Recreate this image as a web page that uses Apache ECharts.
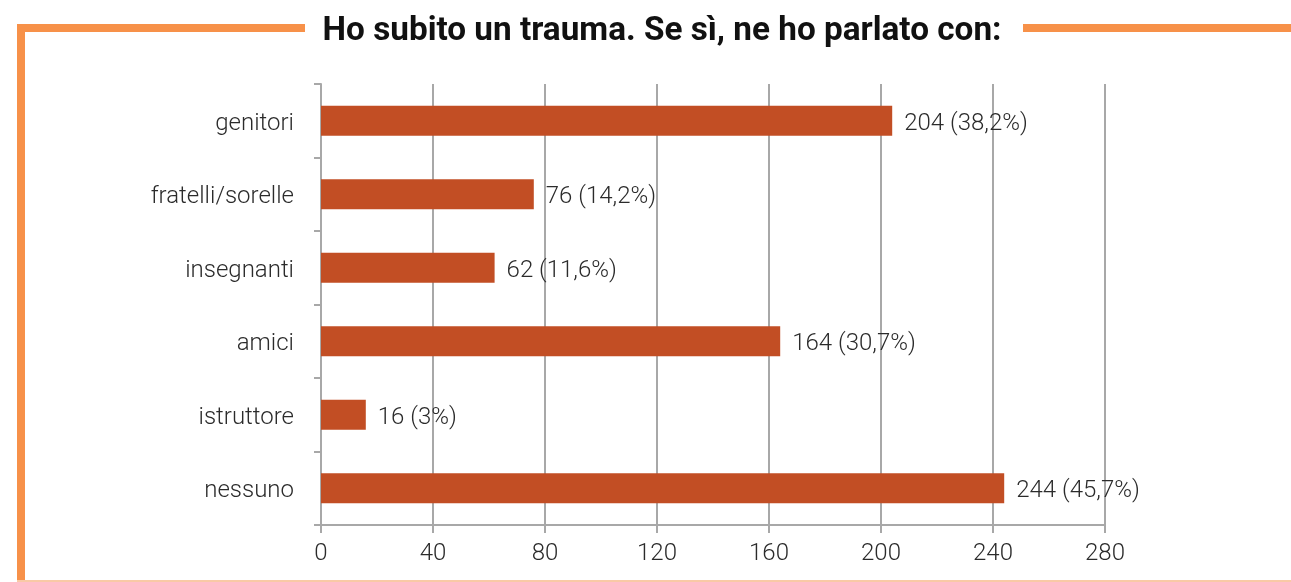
<!DOCTYPE html>
<html>
<head>
<meta charset="utf-8">
<script src="https://cdn.jsdelivr.net/npm/echarts@6/dist/echarts.min.js"></script>
<style>
  html, body { margin: 0; padding: 0; background: #fff; }
  #chart { width: 1291px; height: 582px; }
</style>
</head>
<body>
<div id="chart"></div>
<script>
// dati del grafico
var categorie = ["genitori", "fratelli/sorelle", "insegnanti", "amici", "istruttore", "nessuno"];
var valori = [204, 76, 62, 164, 16, 244];
var percentuali = ["38,2", "14,2", "11,6", "30,7", "3", "45,7"];
var titolo = "Ho subito un trauma. Se sì, ne ho parlato con:";

var arancio = "#f79149";
var grigio = "#a8a8a8";
var testo = "#2b2b2b";

var myChart = echarts.init(document.getElementById("chart"));

var option = {
    backgroundColor: "#fff",
    animation: false,
    title: {
        text: titolo,
        left: 657,
        top: 10,
        textAlign: "center",
        textStyle: {
            fontFamily: "Roboto",
            fontWeight: "bold",
            fontSize: 33.3,
            color: "#111"
        }
    },
    graphic: [
        //cornice arancione
        { type: "rect", shape: { x: 17, y: 24, width: 288, height: 8 }, style: { fill: arancio } },
        { type: "rect", shape: { x: 17, y: 24, width: 8, height: 558 }, style: { fill: arancio } },
        { type: "rect", shape: { x: 1023, y: 24, width: 268, height: 8 }, style: { fill: arancio } },
        { type: "rect", shape: { x: 17, y: 580, width: 1274, height: 2 }, style: { fill: "#f9c9a6" } }
    ],
    grid: {
        left: 321,
        right: 186,
        top: 84,
        bottom: 57,
        containLabel: false
    },
    xAxis: {
        type: "value",
        min: 0,
        max: 280,
        interval: 40,
        axisLine: { show: true, lineStyle: { color: grigio, width: 2 } },
        axisTick: { show: true, length: 8, lineStyle: { color: grigio, width: 2 } },
        splitLine: { show: true, lineStyle: { color: grigio, width: 2 } },
        axisLabel: {
            fontFamily: "Roboto",
            fontWeight: 300,
            fontSize: 24,
            color: testo,
            margin: 17
        }
    },
    yAxis: {
        type: "category",
        data: categorie,
        inverse: true,
        axisLine: { show: true, lineStyle: { color: grigio, width: 2 } },
        axisTick: { show: true, length: 7, lineStyle: { color: grigio, width: 2 } },
        axisLabel: {
            margin: 27,
            formatter: function(v) {
                return "{c|" + v + "}";
            },
            rich: {
                c: {
                    fontFamily: "Roboto",
                    fontWeight: 300,
                    fontSize: 24,
                    color: testo,
                    padding: [6, 0, 0, 0]
                }
            }
        }
    },
    series: [{
        type: "bar",
        data: valori,
        barWidth: 30,
        itemStyle: { color: "#c24e24" },
        label: {
            show: true,
            position: "right",
            distance: 12,
            offset: [0, 3],
            fontFamily: "Roboto",
            fontWeight: 300,
            fontSize: 24,
            color: testo,
            formatter: function(p) {
                return p.value + " (" + percentuali[p.dataIndex] + "%)";
            }
        }
    }]
};
myChart.setOption(option);
</script>
</body>
</html>
